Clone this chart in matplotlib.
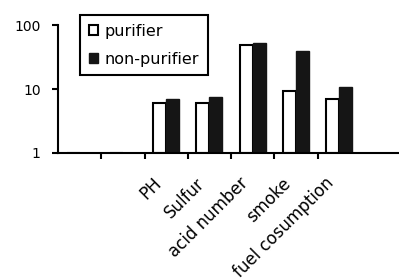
import numpy as np
import matplotlib
matplotlib.use("Agg")
import matplotlib.pyplot as plt

# values (log scale)
categories = ["", "", "PH", "Sulfur", "acid number", "smoke", "fuel cosumption"]
purifier = [1.0, 1.0, 6.0, 6.1, 48, 9.3, 7.0]
non_purifier = [1.0, 1.0, 7.0, 7.5, 52, 39, 10.7]

plt.rcParams["font.family"] = "DejaVu Sans"

fig = plt.figure(figsize=(3.99, 2.79), dpi=100)
ax = fig.add_axes([0.1454, 0.452, 0.8546, 0.458])

x = np.arange(len(categories))
w = 0.3
p = np.array(purifier)
n = np.array(non_purifier)
ax.bar(x - 0.15, p - 1, w, bottom=1, color="white", edgecolor="black",
       linewidth=1.5, label="purifier")
ax.bar(x + 0.15, n - 1, w, bottom=1, color="#151515", edgecolor="#151515",
       linewidth=1.0, label="non-purifier")

ax.set_yscale("log")
ax.set_ylim(1, 100)
ax.set_yticks([1, 10, 100])
ax.set_yticklabels(["1", "10", "100"])
ax.yaxis.set_minor_locator(plt.NullLocator())
ax.set_xlim(-0.5, 7.38)

# boundary ticks, labels sit a little left of each group centre
ax.set_xticks(x[:-1] + 0.5)
ax.set_xticklabels([])
ax.set_xticks(x - 0.18, minor=True)
ax.set_xticklabels(categories, minor=True, rotation=45, ha="right",
                   va="center", rotation_mode="anchor", fontsize=12)

ax.tick_params(axis="x", which="major", direction="out", length=4.5, width=1.5)
ax.tick_params(axis="x", which="minor", length=0, pad=20)
ax.tick_params(axis="y", which="major", direction="out", length=4.5, width=1.5,
               pad=8, labelsize=10)

for s in ["top", "right"]:
    ax.spines[s].set_visible(False)
for s in ["left", "bottom"]:
    ax.spines[s].set_linewidth(1.5)

leg = ax.legend(loc="upper left", bbox_to_anchor=(80 / 399, 1 - 15 / 279),
                bbox_transform=fig.transFigure, fontsize=11.5, frameon=True,
                fancybox=False, framealpha=1, handlelength=0.6,
                handleheight=0.6, handletextpad=0.4, borderpad=0.55,
                labelspacing=0.8, borderaxespad=0)
leg.get_frame().set_edgecolor("black")
leg.get_frame().set_linewidth(1.5)

fig.savefig("out.png", dpi=100)
